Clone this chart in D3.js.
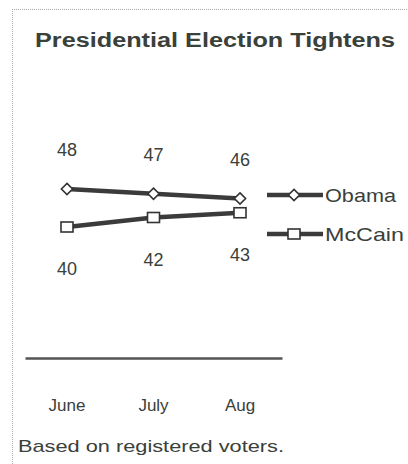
<!DOCTYPE html>
<html><head><meta charset="utf-8">
<script src="https://cdn.jsdelivr.net/npm/d3@7"></script>
<style>body{margin:0;background:#fff}svg{display:block}</style>
</head><body>
<script>
const months = ["June", "July", "Aug"];
const obama = [48, 47, 46];
const mccain = [40, 42, 43];
const seriesNames = ["Obama", "McCain"];
const title = "Presidential Election Tightens";
const note = "Based on registered voters.";

const W = 408, H = 464;
const ink = "#3a403a";
const svg = d3.select("body").append("svg").attr("width", W).attr("height", H);

// dotted frame
svg.append("line").attr("x1", 12.5).attr("x2", 12.5).attr("y1", 9).attr("y2", H)
  .attr("stroke", "#aaa").attr("stroke-dasharray", "1,1");
svg.append("line").attr("x1", 12).attr("x2", W).attr("y1", 9.5).attr("y2", 9.5)
  .attr("stroke", "#aaa").attr("stroke-dasharray", "1,1");

svg.append("text").attr("x", 35).attr("y", 47).text(title)
  .attr("font-family", "Liberation Sans, Arial, sans-serif").attr("font-weight", "bold")
  .attr("font-size", 20).attr("fill", ink).attr("textLength", 360).attr("lengthAdjust", "spacingAndGlyphs");

const x = d3.scalePoint().domain(months).range([67, 240]);
const y = d3.scaleLinear().domain([40, 48]).range([227, 189]);

// baseline axis
const axisG = svg.append("g").attr("transform", "translate(0,358)");
axisG.call(d3.axisBottom(d3.scaleLinear().range([25, 282])).ticks(0).tickSizeOuter(0));
axisG.select(".domain").attr("stroke", "#555").attr("stroke-width", 2.5);

months.forEach(m => {
  svg.append("text").attr("x", x(m)).attr("y", 411).attr("text-anchor", "middle")
    .attr("font-family", "Liberation Sans, Arial, sans-serif").attr("font-size", 17)
    .attr("fill", ink).text(m);
});

const line = d3.line().x((d, i) => x(months[i])).y(d => y(d));
const series = [
  {name: seriesNames[0], vals: obama, marker: "diamond", dy: -33, len: 71},
  {name: seriesNames[1], vals: mccain, marker: "square", dy: 48, len: 79}
];

function drawMarker(g, type, cx, cy) {
  if (type === "diamond") {
    g.append("path").attr("d", d3.symbol(d3.symbolDiamond2, 80)())
      .attr("transform", `translate(${cx},${cy})`)
      .attr("fill", "#fff").attr("stroke", "#333").attr("stroke-width", 1.6);
  } else {
    g.append("rect").attr("x", cx - 6).attr("y", cy - 5).attr("width", 12).attr("height", 10)
      .attr("fill", "#fff").attr("stroke", "#333").attr("stroke-width", 1.6);
  }
}

series.forEach(s => {
  svg.append("path").datum(s.vals).attr("d", line).attr("fill", "none")
    .attr("stroke", "#3b3b3b").attr("stroke-width", 4.5);
  const g = svg.append("g");
  s.vals.forEach((v, i) => {
    drawMarker(g, s.marker, x(months[i]), y(v));
    svg.append("text").attr("x", x(months[i])).attr("y", y(v) + s.dy)
      .attr("text-anchor", "middle").attr("font-family", "Liberation Sans, Arial, sans-serif")
      .attr("font-size", 18).attr("fill", ink).text(v);
  });
});

// legend
const legY = [195, 234];
series.forEach((s, i) => {
  const g = svg.append("g");
  g.append("line").attr("x1", 267).attr("x2", 323).attr("y1", legY[i]).attr("y2", legY[i])
    .attr("stroke", "#3b3b3b").attr("stroke-width", 4.5);
  drawMarker(g, s.marker, 294, legY[i]);
  g.append("text").attr("x", 325).attr("y", legY[i] + 7).text(s.name)
    .attr("font-family", "Liberation Sans, Arial, sans-serif").attr("font-size", 19).attr("fill", ink)
    .attr("textLength", s.len).attr("lengthAdjust", "spacingAndGlyphs");
});

svg.append("text").attr("x", 18).attr("y", 452).text(note)
  .attr("font-family", "Liberation Sans, Arial, sans-serif").attr("font-size", 17)
  .attr("fill", ink).attr("textLength", 266).attr("lengthAdjust", "spacingAndGlyphs");
</script>
</body></html>
